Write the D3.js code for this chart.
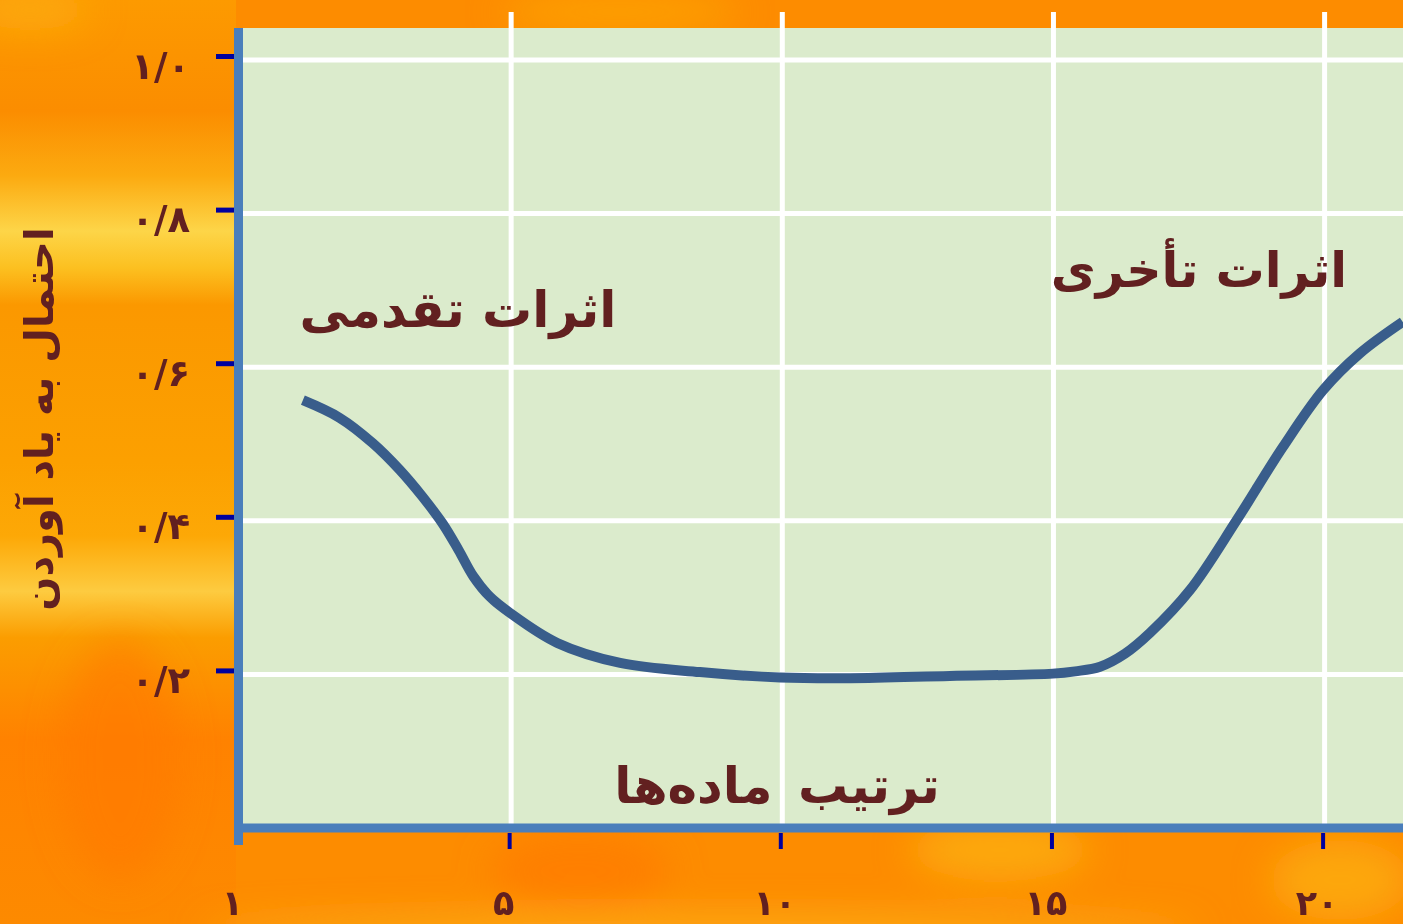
<!DOCTYPE html>
<html>
<head>
<meta charset="utf-8">
<script src="https://cdn.jsdelivr.net/npm/d3@7"></script>
<style>
  body { margin: 0; padding: 0; overflow: hidden; }
  svg { display: block; }
  text { font-family: "DejaVu Sans", sans-serif; fill: #622020; font-weight: bold; }
</style>
</head>
<body>
<svg id="chart" width="1403" height="924"></svg>
<script>
// data
var itemPos  = [1.16, 1.84, 2.45, 2.95, 3.37, 3.74, 4.03, 4.30, 4.61, 4.98, 5.85, 7.01, 8.48, 9.96, 11.25, 13.09, 14.99, 15.40, 15.86, 16.32, 16.78, 17.52, 18.38, 19.23, 19.97, 20.65, 21.44];
var recall   = [0.557, 0.534, 0.501, 0.466, 0.431, 0.396, 0.362, 0.328, 0.301, 0.280, 0.241, 0.215, 0.203, 0.196, 0.195, 0.198, 0.201, 0.204, 0.210, 0.227, 0.254, 0.310, 0.401, 0.496, 0.570, 0.618, 0.659];
var xTicks   = [0, 5, 10, 15, 20];
var xLabels  = ["۱", "۵", "۱۰", "۱۵", "۲۰"];
var yTicks   = [0.2, 0.4, 0.6, 0.8, 1.0];
var yLabels  = ["۰/۲", "۰/۴", "۰/۶", "۰/۸", "۱/۰"];
var yTitle   = "احتمال به یاد آوردن";
var xTitle   = "ترتیب ماده‌ها";
var primacy  = "اثرات تقدمی";
var recency  = "اثرات تأخری";

var svg = d3.select("#chart");
var defs = svg.append("defs");

// ---- orange background ----
var lg = defs.append("linearGradient").attr("id", "leftBand")
    .attr("x1", 0).attr("y1", 0).attr("x2", 0).attr("y2", 1);
[[0, "#fd9a00"], [0.12, "#fb8d00"], [0.19, "#fcaa10"], [0.25, "#fdd548"], [0.29, "#fcc020"], [0.33, "#fb9800"],
 [0.5, "#fca000"], [0.58, "#fda806"], [0.64, "#fdcb40"], [0.69, "#fb9d00"], [0.8, "#ff8200"], [1, "#fd8a00"]]
  .forEach(function(s){ lg.append("stop").attr("offset", s[0]).attr("stop-color", s[1]); });

var blur = defs.append("filter").attr("id", "soft").attr("x", "-50%").attr("y", "-50%").attr("width", "200%").attr("height", "200%");
blur.append("feGaussianBlur").attr("stdDeviation", 18);

svg.append("rect").attr("width", 1403).attr("height", 924).attr("fill", "#fd8c00");
svg.append("rect").attr("width", 236).attr("height", 924).attr("fill", "url(#leftBand)");

var blobs = svg.append("g").attr("filter", "url(#soft)");
blobs.append("ellipse").attr("cx", 30).attr("cy", 10).attr("rx", 60).attr("ry", 20).attr("fill", "#fdae10").attr("opacity", 0.8);
blobs.append("ellipse").attr("cx", 620).attr("cy", 12).attr("rx", 120).attr("ry", 16).attr("fill", "#fdaa08").attr("opacity", 0.8);
blobs.append("ellipse").attr("cx", 1000).attr("cy", 850).attr("rx", 90).attr("ry", 30).attr("fill", "#fdb010").attr("opacity", 0.8);
blobs.append("ellipse").attr("cx", 1340).attr("cy", 880).attr("rx", 70).attr("ry", 40).attr("fill", "#fdae10").attr("opacity", 0.8);
blobs.append("ellipse").attr("cx", 700).attr("cy", 930).attr("rx", 500).attr("ry", 14).attr("fill", "#fdb820").attr("opacity", 0.8);
blobs.append("ellipse").attr("cx", 580).attr("cy", 870).attr("rx", 90).attr("ry", 40).attr("fill", "#ff7a00").attr("opacity", 0.7);
blobs.append("ellipse").attr("cx", 120).attr("cy", 760).attr("rx", 60).attr("ry", 120).attr("fill", "#ff7800").attr("opacity", 0.6);

// ---- scales ----
var x = d3.scaleLinear().domain([0, 21.5]).range([240, 240 + 21.5 * 54.23]);
var y = d3.scaleLinear().domain([0, 1]).range([828, 60]);

// plot panel
svg.append("rect").attr("x", 238).attr("y", 28).attr("width", 1403 - 238).attr("height", 800).attr("fill", "#dbebcc");

// grid
var grid = svg.append("g").attr("stroke", "#ffffff").attr("stroke-width", 5);
grid.selectAll("line.h").data(yTicks).enter().append("line").attr("class", "h")
    .attr("x1", 238).attr("x2", 1403)
    .attr("y1", function(d){ return y(d); }).attr("y2", function(d){ return y(d); });
grid.selectAll("line.v").data(xTicks.slice(1)).enter().append("line").attr("class", "v")
    .attr("y1", 12).attr("y2", 828)
    .attr("x1", function(d){ return x(d); }).attr("x2", function(d){ return x(d); });

// curve
var line = d3.line()
    .x(function(d, i){ return x(itemPos[i]); })
    .y(function(d){ return y(d); })
    .curve(d3.curveCatmullRom.alpha(0.5));
svg.append("path").datum(recall)
    .attr("d", line)
    .attr("fill", "none")
    .attr("stroke", "#395d8b")
    .attr("stroke-width", 10);

// axes (ticks + labels)
var yAxis = svg.append("g").attr("transform", "translate(234,-4)")
    .call(d3.axisLeft(y).tickValues(yTicks).tickSize(18).tickPadding(26)
          .tickFormat(function(d, i){ return yLabels[i]; }));
yAxis.select(".domain").remove();
yAxis.selectAll(".tick line").attr("stroke", "#00009e").attr("stroke-width", 5);
yAxis.selectAll(".tick text").attr("dy", 22).attr("font-size", 37)
    .attr("font-family", "DejaVu Sans").attr("font-weight", "bold").attr("fill", "#622020");

var xAxis = svg.append("g").attr("transform", "translate(-2,833)")
    .call(d3.axisBottom(x).tickValues(xTicks).tickSize(16).tickPadding(0)
          .tickFormat(function(d, i){ return xLabels[i]; }));
xAxis.select(".domain").remove();
xAxis.selectAll(".tick line").attr("stroke", "#00009e").attr("stroke-width", 4)
    .attr("opacity", function(d, i){ return i === 0 ? 0 : 1; });
xAxis.selectAll(".tick text").attr("y", 82).attr("dy", 0).attr("dx", -6).attr("font-size", 35)
    .attr("font-family", "DejaVu Sans").attr("font-weight", "bold").attr("fill", "#622020");

// axis lines
svg.append("line").attr("x1", 238.5).attr("x2", 238.5).attr("y1", 28).attr("y2", 845)
    .attr("stroke", "#4a7ebb").attr("stroke-width", 9);
svg.append("line").attr("x1", 234).attr("x2", 1403).attr("y1", 828).attr("y2", 828)
    .attr("stroke", "#4a7ebb").attr("stroke-width", 9);

// titles and annotations
svg.append("text").attr("transform", "translate(53,419) rotate(-90)")
    .attr("text-anchor", "middle").attr("direction", "rtl").attr("font-size", 40).text(yTitle);
svg.append("text").attr("x", 777).attr("y", 803)
    .attr("text-anchor", "middle").attr("font-size", 50).attr("word-spacing", 8).text(xTitle);
svg.append("text").attr("x", 458).attr("y", 327)
    .attr("text-anchor", "middle").attr("font-size", 50).text(primacy);
svg.append("text").attr("x", 1199).attr("y", 287)
    .attr("text-anchor", "middle").attr("font-size", 49).text(recency);
</script>
</body>
</html>
